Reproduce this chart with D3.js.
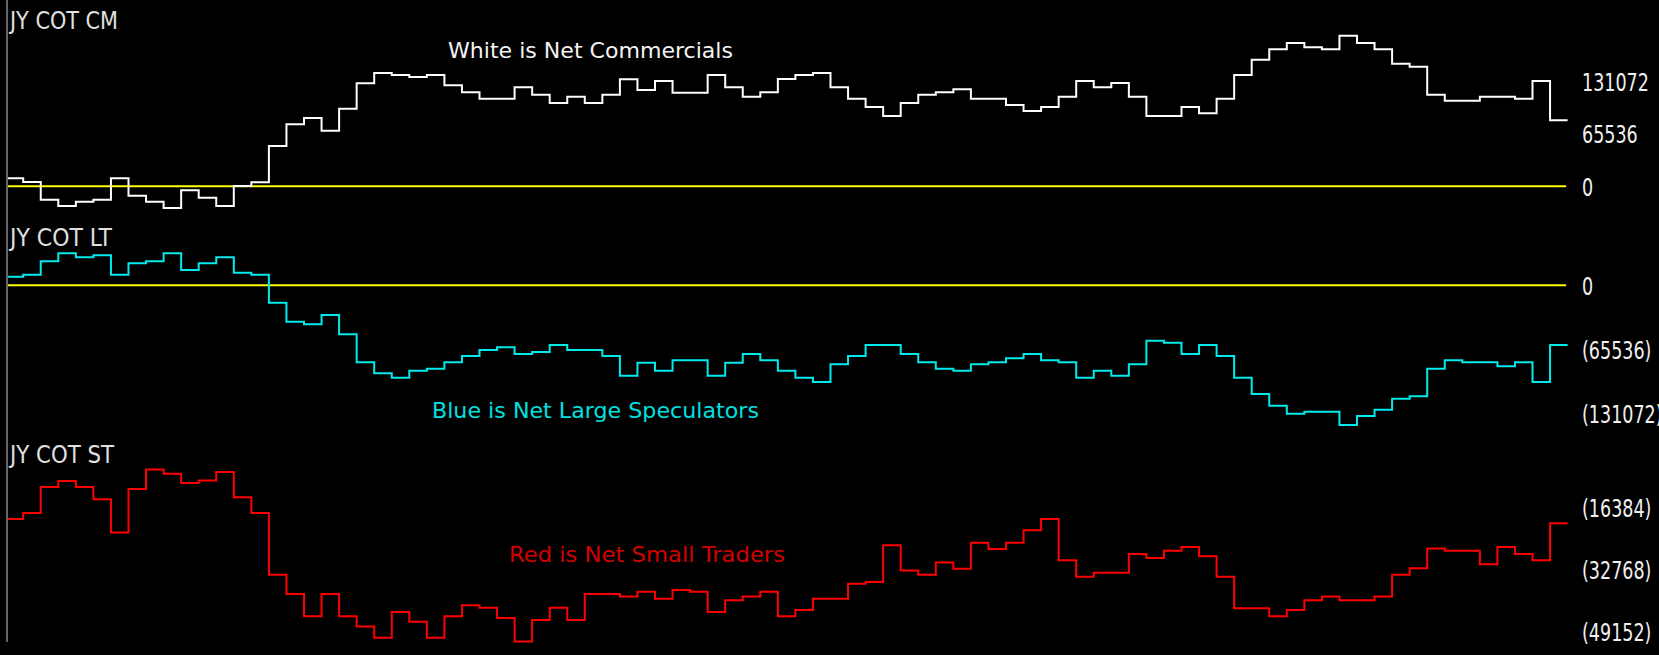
<!DOCTYPE html>
<html>
<head>
<meta charset="utf-8">
<script src="https://cdn.jsdelivr.net/npm/d3@7"></script>
<style>
  html, body { margin: 0; padding: 0; background: #000; overflow: hidden; }
</style>
</head>
<body>
<svg width="1659" height="655"></svg>
<script>
// weekly net positions, JY COT report
var cmValues = [10000, 5400, -16700, -24600, -19200, -16700, 10000, -11700, -19200, -27100,
  -5000, -14200, -24600, 300, 5000, 50300, 77400, 85200, 69400, 96800,
  128500, 141400, 138900, 136400, 138900, 126000, 117300, 109300, 109300, 123600,
  114300, 104000, 111800, 104000, 114300, 133500, 120200, 131400, 116800, 116800,
  138900, 123600, 111800, 117300, 133900, 138900, 141400, 123600, 109300, 99000,
  87700, 104000, 114300, 117300, 121100, 109300, 109300, 101500, 94000, 99000,
  111800, 131400, 123600, 128900, 111800, 87700, 87700, 99000, 91100, 109300,
  138900, 158000, 171000, 178900, 173500, 171000, 188000, 178900, 171000, 153000,
  149300, 114300, 106900, 106900, 111800, 111800, 109300, 131400, 82400];

var ltValues = [8800, 10900, 24600, 32800, 28700, 30700, 10900, 22500, 24600, 32800,
  15700, 22500, 28700, 12900, 10900, -17800, -37300, -39900, -30400, -50200,
  -78800, -90100, -94600, -87400, -85400, -78800, -72400, -66300, -63500, -70300,
  -68300, -61100, -66300, -66300, -72400, -92600, -79300, -87400, -76800, -76800,
  -92600, -79300, -70300, -76800, -87400, -94600, -99000, -80900, -72400, -61100,
  -61100, -70300, -78800, -85400, -87400, -80900, -78800, -74800, -70300, -76800,
  -78800, -94600, -87400, -92600, -80900, -56700, -58800, -70300, -61100, -72400,
  -94600, -111300, -123300, -131500, -129400, -129400, -143100, -133800, -127400, -116100,
  -113700, -85400, -76800, -78800, -78800, -82900, -78800, -99000, -61100];

var stValues = [-19400, -17800, -11000, -9400, -11000, -14200, -23000, -11500, -6400, -7500,
  -9900, -9300, -7000, -13700, -17800, -34100, -39200, -45000, -39200, -45000,
  -47700, -50700, -43900, -46500, -50700, -45000, -42100, -42800, -45500, -51700,
  -46000, -42800, -46000, -39200, -39200, -39800, -38600, -40400, -38100, -38600,
  -43900, -40800, -39800, -38600, -45000, -43400, -40400, -40400, -36500, -36000,
  -26300, -33000, -34100, -30900, -32500, -25700, -27300, -25700, -22400, -19400,
  -30300, -34600, -33600, -33600, -28600, -29700, -27800, -26800, -29200, -34600,
  -42900, -42900, -45000, -43400, -40800, -39800, -40800, -40800, -39800, -34100,
  -32400, -27200, -27800, -27800, -31300, -26800, -28600, -30300, -20500];

var cmTicks = [131072, 65536, 0];
var ltTicks = [0, -65536, -131072];
var stTicks = [-16384, -32768, -49152];

var panelTitles = ["JY COT CM", "JY COT LT", "JY COT ST"];
var notes = ["White is Net Commercials", "Blue is Net Large Speculators", "Red is Net Small Traders"];

var svg = d3.select("svg");
svg.append("rect").attr("width", 1659).attr("height", 655).attr("fill", "#000");

svg.append("defs").append("clipPath").attr("id", "plotclip")
  .append("rect").attr("x", 8).attr("y", 0).attr("width", 1600).attr("height", 655);

var x = d3.scaleLinear().domain([0, cmValues.length]).range([5.65, 1567.6]);

var panels = [
  {values: cmValues, ticks: cmTicks, color: "#ffffff", zero: true,
   y: d3.scaleLinear().domain([0, 131072]).range([186.3, 81.3]),
   titleY: 29.3, titleW: 108,
   note: {x: 448, y: 58, w: 285, color: "#f4f4f4"}},
  {values: ltValues, ticks: ltTicks, color: "#00ecec", zero: true,
   y: d3.scaleLinear().domain([0, -131072]).range([285.3, 413.3]),
   titleY: 246, titleW: 102,
   note: {x: 432, y: 418, w: 327, color: "#00e0e0"}},
  {values: stValues, ticks: stTicks, color: "#ff0000", zero: false,
   y: d3.scaleLinear().domain([0, -49152]).range([445.3, 631.9]),
   titleY: 462.7, titleW: 104,
   note: {x: 509, y: 562, w: 276, color: "#d40000"}}
];

var narrowFont = "'DejaVu Sans Condensed', 'Liberation Sans Narrow', sans-serif";

function fmt(v) {
  return v < 0 ? "(" + (-v) + ")" : String(v);
}

// left frame line
svg.append("line")
  .attr("x1", 7).attr("x2", 7).attr("y1", 0).attr("y2", 642)
  .attr("stroke", "#808080").attr("stroke-width", 1.6);

panels.forEach(function(p, k) {
  var g = svg.append("g").attr("class", "panel");

  if (p.zero) {
    g.append("line")
      .attr("x1", 8).attr("x2", x(p.values.length) - 1.5)
      .attr("y1", p.y(0)).attr("y2", p.y(0))
      .attr("stroke", "#ffff00").attr("stroke-width", 2);
  }

  var pts = p.values.map(function(v, i) { return [i, v]; });
  pts.push([p.values.length, p.values[p.values.length - 1]]);  // hold last week to the edge

  var lineMaker = d3.line()
    .x(d => x(d[0]))
    .y(d => p.y(d[1]))
    .curve(d3.curveStepAfter);

  g.append("path")
    .attr("clip-path", "url(#plotclip)")
    .attr("fill", "none").attr("stroke", p.color).attr("stroke-width", 2)
    .attr("d", lineMaker(pts));

  // panel title
  g.append("text")
    .attr("x", 10).attr("y", p.titleY)
    .attr("fill", "#e0e0e0")
    .attr("font-family", narrowFont)
    .attr("font-size", 25)
    .attr("textLength", p.titleW).attr("lengthAdjust", "spacingAndGlyphs")
    .text(panelTitles[k]);

  // value labels on the right, squeezed horizontally like the bitmap font
  g.selectAll("text.tick")
    .data(p.ticks).enter()
    .append("text").attr("class", "tick")
    .attr("transform", d => "translate(1582," + (p.y(d) + 9.5) + ") scale(0.78,1)")
    .attr("fill", "#f0f0f0")
    .attr("font-family", narrowFont)
    .attr("font-size", 25)
    .text(d => fmt(d));

  // explanatory note
  g.append("text")
    .attr("x", p.note.x).attr("y", p.note.y)
    .attr("fill", p.note.color)
    .attr("font-family", "'DejaVu Sans', Verdana, sans-serif")
    .attr("font-size", 22)
    .attr("textLength", p.note.w).attr("lengthAdjust", "spacingAndGlyphs")
    .text(notes[k]);
});
</script>
</body>
</html>
